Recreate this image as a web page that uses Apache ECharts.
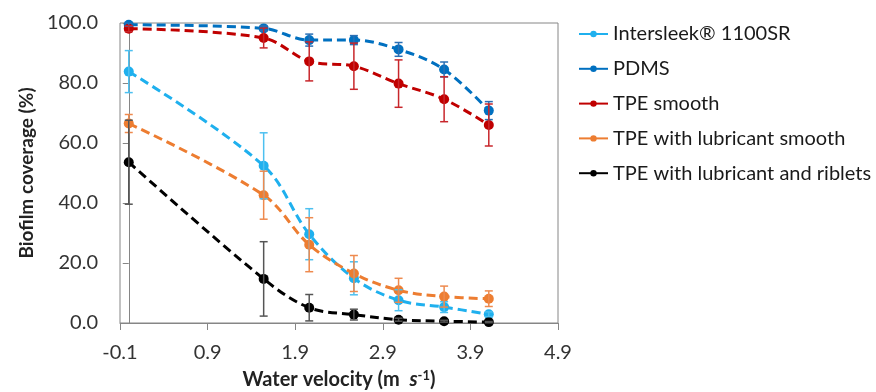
<!DOCTYPE html>
<html><head><meta charset="utf-8">
<script src="https://cdn.jsdelivr.net/npm/echarts@6/dist/echarts.min.js"></script>
<style>html,body{margin:0;padding:0;background:#fff}#c{width:876px;height:392px}</style>
</head><body><div id="c"></div>
<script>
const velocities = [0, 1.54, 2.06, 2.57, 3.08, 3.6, 4.11];
const xTicks = [-0.1, 0.9, 1.9, 2.9, 3.9, 4.9];
const yTicks = [0, 20, 40, 60, 80, 100];
const seriesNames = ['Intersleek® 1100SR', 'PDMS', 'TPE smooth', 'TPE with lubricant smooth', 'TPE with lubricant and riblets'];
const intersleek = [83.8, 52.4, 29.6, 14.9, 7.6, 5.3, 2.9];
const intersleekErr = [7, 11, 8.5, 5.5, 3.5, 1.8, 0.8];
const pdms = [99.4, 98.2, 94.3, 94.3, 91.2, 84.5, 70.8];
const pdmsErr = [0.5, 0.8, 2, 1.5, 2.3, 2.5, 3];
const tpeSmooth = [98.1, 95, 87.2, 85.6, 79.8, 74.6, 66];
const tpeSmoothErr = [1, 3.3, 6.5, 7.7, 7.9, 7.5, 7];
const tpeLub = [66.5, 42.6, 26.1, 16.5, 10.9, 8.8, 8.1];
const tpeLubErr = [3, 8, 9, 6, 4, 3.5, 2.6];
const tpeRib = [53.6, 14.7, 5.1, 2.8, 1.1, 0.6, 0.3];
const tpeRibErr = [14, 12.4, 4.4, 1.8, 0.5, 0.3, 0.2];

const values = [intersleek, pdms, tpeSmooth, tpeLub, tpeRib];
const errs = [intersleekErr, pdmsErr, tpeSmoothErr, tpeLubErr, tpeRibErr];
const colors = ['#1FB0EE', '#0070C0', '#C00000', '#ED7D31', '#000000'];
const errColors = ['#4DC0F0', '#2A6FB5', '#C8262B', '#EE8A4E', '#555555'];
const FONT = 'Lato';

const series = [];
values.forEach((vals, i) => {
  series.push({
    name: seriesNames[i], type: 'line', smooth: 0.35,
    data: velocities.map((x, j) => [x, vals[j]]),
    symbol: 'circle', symbolSize: 10,
    itemStyle: {color: colors[i]},
    lineStyle: {color: colors[i], width: 3, type: [9, 5]},
    z: 3
  });
});
values.forEach((vals, i) => {
  series.push({
    type: 'custom', name: seriesNames[i] + ' err', z: 4,
    data: velocities.map((x, j) => [x, vals[j] - errs[i][j], vals[j] + errs[i][j]]),
    renderItem: function (params, api) {
      const lo = api.coord([api.value(0), api.value(1)]);
      const hi = api.coord([api.value(0), api.value(2)]);
      const w = 4;
      const st = {stroke: errColors[i], lineWidth: 1.5};
      return {type: 'group', children: [
        {type: 'line', shape: {x1: lo[0], y1: lo[1], x2: hi[0], y2: hi[1]}, style: st},
        {type: 'line', shape: {x1: lo[0]-w, y1: lo[1], x2: lo[0]+w, y2: lo[1]}, style: st},
        {type: 'line', shape: {x1: hi[0]-w, y1: hi[1], x2: hi[0]+w, y2: hi[1]}, style: st}
      ]};
    }
  });
});

const chart = echarts.init(document.getElementById('c'));
chart.setOption({
  animation: false,
  textStyle: {fontFamily: FONT},
  grid: {left: 120, right: 318, top: 23, bottom: 69, containLabel: false, outerBoundsMode: 'none',
         show: true, borderColor: '#868686', borderWidth: 1},
  legend: {
    orient: 'vertical', left: 573, top: 18, itemGap: 12.8, itemWidth: 29, itemHeight: 8,
    data: seriesNames,
    textStyle: {fontFamily: FONT, fontSize: 20, color: '#1a1a1a', lineHeight: 22},
    lineStyle: {type: 'solid', width: 2}
  },
  xAxis: {
    type: 'value', min: -0.1, max: 4.9,
    splitLine: {show: false},
    axisLine: {lineStyle: {color: '#868686', width: 1}},
    axisTick: {show: true, inside: false, length: 7, lineStyle: {color: '#868686'}, customValues: xTicks},
    axisLabel: {customValues: xTicks, formatter: v => v.toFixed(1), fontFamily: FONT, fontSize: 20, color: '#333', margin: 20},
    name: '{b|Water velocity (m  }{i|s}{sup|-1}{b|)}', nameLocation: 'middle', nameGap: 46,
    nameTextStyle: {rich: {
      b: {fontFamily: FONT, fontSize: 20, fontWeight: 'bold', color: '#222'},
      i: {fontFamily: FONT, fontSize: 20, fontWeight: 'bold', fontStyle: 'italic', color: '#222'},
      sup: {fontFamily: FONT, fontSize: 13, fontWeight: 'bold', color: '#222', verticalAlign: 'top', padding: [0,0,8,0]}
    }}
  },
  yAxis: {
    type: 'value', min: 0, max: 100, interval: 20,
    splitLine: {show: false},
    axisLine: {show: true, lineStyle: {color: '#868686', width: 1}},
    axisTick: {show: true, inside: false, length: 6, lineStyle: {color: '#868686'}},
    axisLabel: {formatter: v => v.toFixed(1), fontFamily: FONT, fontSize: 20, color: '#333', margin: 22},
    name: 'Biofilm coverage (%)', nameLocation: 'middle', nameGap: 84,
    nameTextStyle: {fontFamily: FONT, fontSize: 19, fontWeight: 'bold', color: '#222'}
  },
  series: series
});
</script></body></html>
